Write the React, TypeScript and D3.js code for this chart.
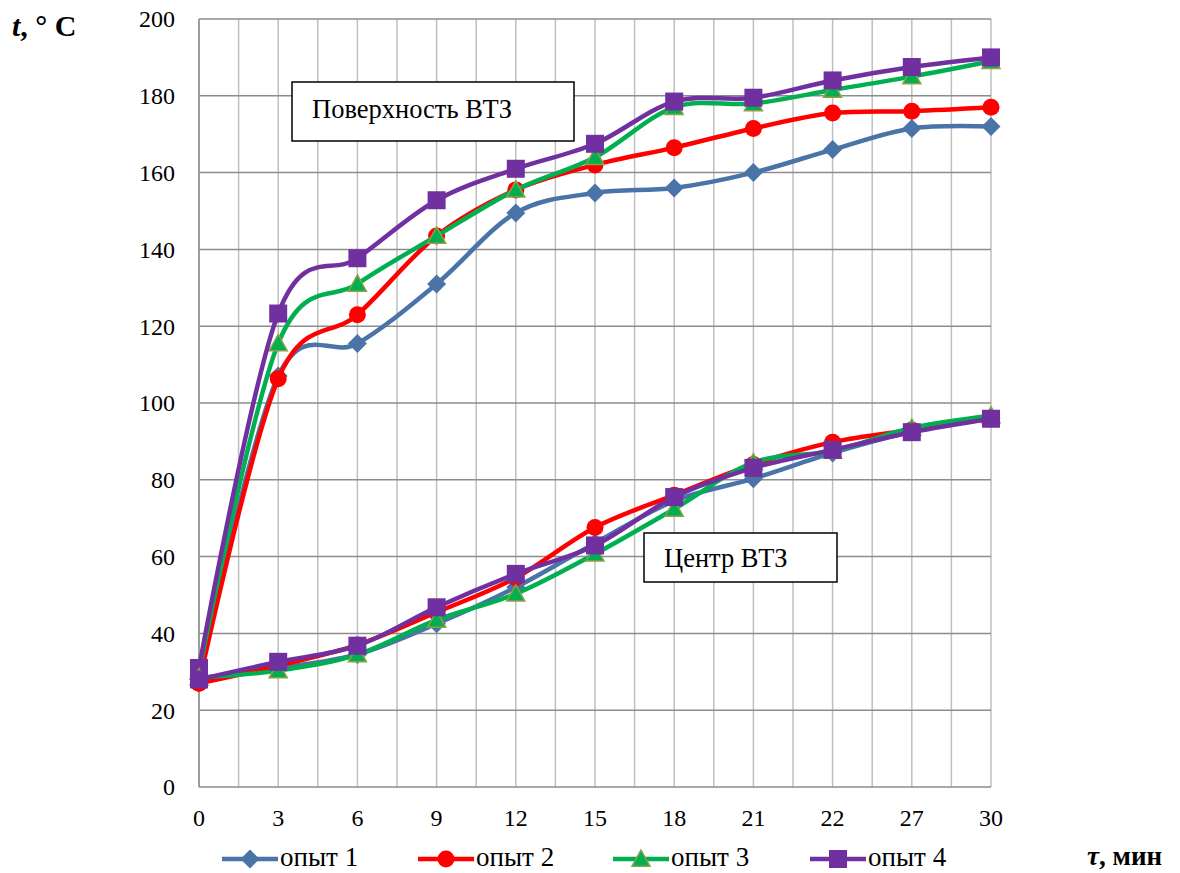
import React from "react";
import * as d3 from "d3";

const categories = ["0", "3", "6", "9", "12", "15", "18", "21", "22", "27", "30"];
const yTicks = [0, 20, 40, 60, 80, 100, 120, 140, 160, 180, 200];

// Surface (Поверхность ВТЗ)
const surf1 = [29, 107, 115.5, 131, 149.5, 154.7, 156, 160, 166, 171.5, 172];
const surf2 = [27, 106.3, 123, 143.5, 155.5, 162, 166.5, 171.5, 175.5, 176, 177];
const surf3 = [30, 115.5, 131, 143.5, 155.5, 164, 177, 178, 181.5, 185, 189];
const surf4 = [31, 123.3, 137.7, 152.8, 161, 167.5, 178.5, 179.5, 184, 187.5, 190];
// Center (Центр ВТЗ)
const cent1 = [28, 31, 34.5, 42.5, 52, 63.5, 74.5, 80.3, 87, 92.5, 96];
const cent2 = [27, 31.6, 37, 45.5, 54.5, 67.6, 76, 84, 89.8, 93, 96];
const cent3 = [28.5, 30.3, 34.5, 43.5, 50.3, 60.7, 72.4, 84.5, 87.5, 93.5, 96.7];
const cent4 = [28, 32.6, 36.8, 46.8, 55.5, 62.9, 75.5, 83.1, 87.8, 92.4, 95.9];

const seriesNames = ["опыт 1", "опыт 2", "опыт 3", "опыт 4"];
const colors = ["#4A74A8", "#FF0000", "#00B050", "#7030A0"];
const markers = ["diamond", "circle", "triangle", "square"];

const W = 1180;
const H = 873;
const left = 199;
const right = 991;
const top = 19;
const bottom = 787;

function Marker({ type, x, y, color }: { type: string; x: number; y: number; color: string }) {
  if (type === "diamond") {
    const r = 9.5;
    return <path d={`M${x},${y - r}L${x + r},${y}L${x},${y + r}L${x - r},${y}Z`} fill={color} />;
  }
  if (type === "circle") return <circle cx={x} cy={y} r={8.5} fill={color} />;
  if (type === "triangle") {
    const r = 9;
    return (
      <path
        d={`M${x},${y - r}L${x + r},${y + r * 0.8}L${x - r},${y + r * 0.8}Z`}
        fill={color}
        stroke="#8E9F48"
        strokeWidth={1.5}
      />
    );
  }
  const s = 9;
  return <rect x={x - s} y={y - s} width={2 * s} height={2 * s} fill={color} />;
}

export default function App() {
  const x = d3.scalePoint<string>().domain(categories).range([left, right]);
  const y = d3.scaleLinear().domain([0, 200]).range([bottom, top]);
  const line = d3
    .line<number>()
    .x((_, i) => x(categories[i]) as number)
    .y((d) => y(d))
    .curve(d3.curveCardinal.tension(0));

  const step = x.step();
  const vLines: number[] = [];
  for (let i = 0; i < categories.length; i++) {
    const cx = x(categories[i]) as number;
    vLines.push(cx);
    if (i < categories.length - 1) vLines.push(cx + step / 2);
  }

  const surf = [surf1, surf2, surf3, surf4];
  const cent = [cent1, cent2, cent3, cent4];
  const font = "'Liberation Serif', 'Times New Roman', serif";

  const legendX = [222, 418, 613, 810];

  return (
    <svg width={W} height={H} style={{ position: "absolute", left: 0, top: 0, background: "#fff" }} fontFamily={font}>
      {/* vertical grid */}
      {vLines.map((vx, i) => (
        <line key={"v" + i} x1={vx} x2={vx} y1={top} y2={bottom} stroke="#BFBFBF" strokeWidth={1.5} />
      ))}
      {/* horizontal grid */}
      {yTicks.map((t) => (
        <line key={"h" + t} x1={left} x2={right} y1={y(t)} y2={y(t)} stroke="#8C8C8C" strokeWidth={1.5} />
      ))}
      <line x1={left} x2={left} y1={top} y2={bottom} stroke="#8C8C8C" strokeWidth={1.5} />
      {/* y tick labels */}
      {yTicks.map((t) => (
        <text key={"yt" + t} x={175} y={y(t)} dy="0.35em" textAnchor="end" fontSize={24}>
          {t}
        </text>
      ))}
      {/* x tick labels */}
      {categories.map((c) => (
        <text key={"xt" + c} x={x(c) as number} y={818} dy="0.35em" textAnchor="middle" fontSize={24}>
          {c}
        </text>
      ))}
      {/* series */}
      {[...surf, ...cent].map((data, k) => {
        const si = k % 4;
        return (
          <g key={"s" + k}>
            <path d={line(data) as string} fill="none" stroke={colors[si]} strokeWidth={4.5} />
            {data.map((v, i) => (
              <Marker key={i} type={markers[si]} x={x(categories[i]) as number} y={y(v)} color={colors[si]} />
            ))}
          </g>
        );
      })}
      {/* annotation boxes */}
      <rect x={292} y={82} width={282} height={59} fill="#fff" stroke="#000" strokeWidth={1.5} />
      <text x={312} y={118} fontSize={26.5}>
        Поверхность ВТЗ
      </text>
      <rect x={644} y={533} width={193} height={49} fill="#fff" stroke="#000" strokeWidth={1.5} />
      <text x={664} y={567} fontSize={26.5}>
        Центр ВТЗ
      </text>
      {/* axis titles */}
      <text x={12} y={36} fontSize={30} fontWeight="bold">
        <tspan fontStyle="italic">t</tspan>, ° C
      </text>
      <text x={1087} y={865} fontSize={27} fontWeight="bold">
        <tspan fontStyle="italic">τ</tspan>, мин
      </text>
      {/* legend */}
      {seriesNames.map((n, i) => (
        <g key={"lg" + i}>
          <line x1={legendX[i]} x2={legendX[i] + 56} y1={859} y2={859} stroke={colors[i]} strokeWidth={4.5} />
          <Marker type={markers[i]} x={legendX[i] + 28} y={859} color={colors[i]} />
          <text x={legendX[i] + 58} y={866} fontSize={27}>
            {n}
          </text>
        </g>
      ))}
    </svg>
  );
}
